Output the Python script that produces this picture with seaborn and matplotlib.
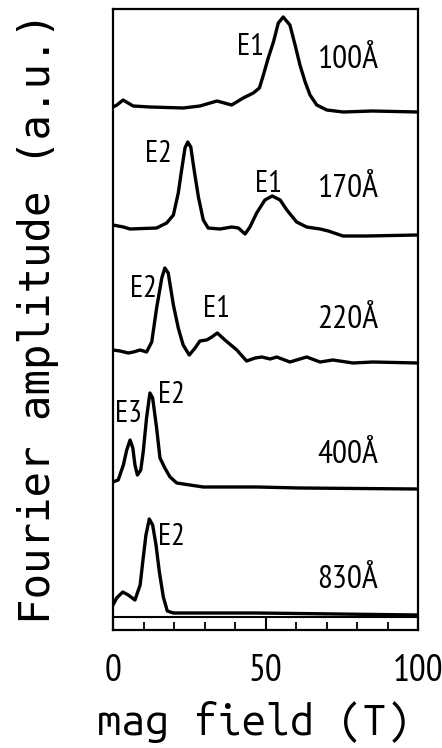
import numpy as np
import pandas as pd
import matplotlib
matplotlib.use("Agg")
import matplotlib.pyplot as plt
import seaborn as sns
from matplotlib.ticker import MultipleLocator

# ---- data (x in tesla, y in arbitrary units; curves are stacked) ----
T_100 = [0, 1.3, 3.3, 6.6, 12.1, 23.0, 28.5, 34.1, 38.9, 42.7, 46.0, 48.0, 49.3, 50.9,
         52.6, 54.2, 55.8, 58.0, 59.7, 61.3, 63.0, 64.6, 66.8, 70.1, 75.5, 85, 100]
A_100 = [523, 525, 530, 524, 523, 522, 524, 529, 525, 532, 537, 542, 555, 572,
         588, 607, 613, 605, 585, 565, 548, 535, 525, 520, 518, 519, 518]

T_170 = [0, 3.4, 5.6, 14.3, 17.6, 19.8, 21.4, 22.5, 23.6, 24.5, 25.5, 26.6, 28.0, 29.6,
         31.2, 35.1, 38.9, 41.1, 43.3, 44.9, 47.1, 49.8, 52.2, 54.8, 57.0, 60.2, 63.5,
         67.9, 70.6, 75.4, 83.2, 100]
A_170 = [405, 403, 401, 402, 407, 415, 437, 460, 482, 488, 483, 460, 433, 410,
         402, 401, 403, 402, 396, 403, 417, 430, 434, 430, 420, 408, 403,
         401, 399, 394, 394, 395]

T_220 = [0, 2.3, 5.0, 6.7, 8.9, 11.0, 12.7, 14.3, 16.0, 17.0, 18.1, 19.8, 21.4, 23.0,
         25.0, 26.9, 28.5, 30.7, 32.4, 34.2, 36.7, 40.6, 43.8, 46.6, 48.8, 51.5, 53.7,
         58.0, 63.5, 67.9, 72.1, 78.7, 85.2, 100]
A_220 = [280, 279, 277, 278, 280, 278, 288, 322, 352, 362, 357, 325, 302, 285,
         275, 282, 289, 290, 293, 297, 290, 280, 269, 272, 273, 271, 273,
         268, 273, 268, 270, 267, 268, 267]

T_400 = [0, 1.7, 3.4, 4.5, 5.6, 6.5, 7.2, 8.0, 9.1, 9.9, 11.0, 12.1, 13.0, 14.3,
         15.4, 17.0, 18.7, 20.9, 25.2, 29.6, 39.3, 47.1, 61.3, 100]
A_400 = [148, 150, 165, 180, 190, 182, 165, 155, 160, 178, 212, 237, 232, 202,
         172, 162, 153, 147, 145, 143, 143, 143, 142, 141]

T_830 = [0, 1.2, 3.2, 5.0, 7.2, 8.9, 9.9, 10.8, 11.9, 13.0, 14.1, 15.2, 16.5, 17.8,
         19.8, 31.8, 47.1, 100]
A_830 = [25, 32, 38, 35, 30, 45, 72, 95, 111, 105, 85, 58, 33, 19,
         17, 17, 17, 15]

samples = ["100Å", "170Å", "220Å", "400Å", "830Å"]
sample_T = [T_100, T_170, T_220, T_400, T_830]
sample_A = [A_100, A_170, A_220, A_400, A_830]
label_T = 77.0
label_A = [562, 433, 302, 167, 42]

# peak labels
peak_text = ["E1", "E2", "E1", "E2", "E1", "E3", "E2", "E2"]
peak_T = [44.9, 14.8, 51.1, 9.8, 33.8, 4.9, 19.3, 19.3]
peak_A = [575, 468, 438, 333, 313, 208, 227, 85]

x_ticks = [0, 50, 100]
x_label = "mag field (T)"
y_label = "Fourier amplitude (a.u.)"

rows = []
for name, ts, ams in zip(samples, sample_T, sample_A):
    for t, a in zip(ts, ams):
        rows.append({"sample": name, "field": t, "amp": a})
df = pd.DataFrame(rows)

sns.set_style("white")
plt.rcParams["text.color"] = "black"
plt.rcParams["xtick.color"] = "black"
narrow = ["PT Sans Narrow", "DejaVu Sans"]

fig = plt.figure(figsize=(4.42, 7.48), dpi=100)
ax = fig.add_axes([113 / 442, 1 - 630 / 748, 305 / 442, 621 / 748])

sns.lineplot(data=df, x="field", y="amp", units="sample", estimator=None,
             sort=False, color="black", linewidth=2.4, ax=ax, legend=False)

ax.axhline(13, color="black", linewidth=1.5)

ax.set_xlim(0, 100)
ax.set_ylim(0, 621)
ax.set_xticks(x_ticks)
ax.xaxis.set_minor_locator(MultipleLocator(10))
ax.set_yticks([])
ax.set_xlabel("")
ax.set_ylabel("")
for s in ax.spines.values():
    s.set_visible(True)
    s.set_linewidth(1.6)
    s.set_color("black")
ax.tick_params(axis="x", which="major", direction="in", length=9.4, width=1.5,
               pad=17, labelsize=27, bottom=True, top=False)
ax.tick_params(axis="x", which="minor", direction="in", length=6, width=1.3,
               bottom=True, top=False)
for lab in ax.get_xticklabels():
    lab.set_family(narrow)

for name, la in zip(samples, label_A):
    ax.text(label_T, la, name, ha="center", va="baseline", fontsize=24, family=narrow)

for txt, t, a in zip(peak_text, peak_T, peak_A):
    ax.text(t, a, txt, ha="center", va="baseline", fontsize=22, family=narrow)

fig.text(254 / 442, 13 / 748, x_label, ha="center", va="baseline",
         fontsize=31, family=["Ubuntu Mono", "DejaVu Sans Mono"])
fig.text(38 / 442, 1 - 318 / 748, y_label, ha="center", va="center",
         rotation=90, fontsize=30.5, family=["DejaVu Sans Mono"])

fig.savefig("out.png", dpi=100)
